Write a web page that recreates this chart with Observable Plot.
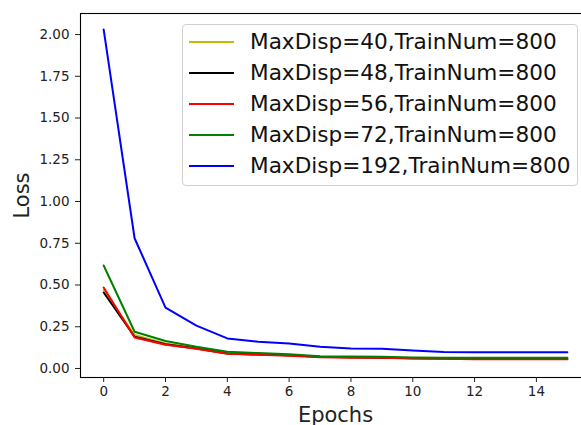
<!DOCTYPE html>
<html>
<head>
<meta charset="utf-8">
<script src="https://cdn.jsdelivr.net/npm/d3@7"></script>
<script src="https://cdn.jsdelivr.net/npm/@observablehq/plot@0.6"></script>
<style>
  body { margin: 0; background: #fff; }
  #wrap { position: relative; width: 581px; height: 425px; overflow: hidden; font-family: "DejaVu Sans", sans-serif; }
  #legend { position: absolute; left: 182px; top: 24px; width: 396px; height: 162px; border: 1px solid #d0d0d0; border-radius: 4px; background: rgba(255,255,255,0.85); box-sizing: border-box; }
  .row { position: absolute; left: 0; height: 30px; }
  .swatch { position: absolute; left: 6px; width: 45px; height: 2px; }
  .lab { position: absolute; left: 67px; font-size: 21.6px; line-height: 30px; color: #111; white-space: nowrap; }
</style>
</head>
<body>
<div id="wrap"></div>
<script>
const epochs = [0, 1, 2, 3, 4, 5, 6, 7, 8, 9, 10, 11, 12, 13, 14, 15];
const seriesNames = [
  "MaxDisp=40,TrainNum=800",
  "MaxDisp=48,TrainNum=800",
  "MaxDisp=56,TrainNum=800",
  "MaxDisp=72,TrainNum=800",
  "MaxDisp=192,TrainNum=800"
];
const seriesColors = ["#bfbf00", "#000000", "#ff0000", "#008000", "#0000ff"];
const loss40  = [0.470, 0.200, 0.150, 0.123, 0.093, 0.086, 0.080, 0.071, 0.068, 0.066, 0.062, 0.061, 0.059, 0.058, 0.058, 0.058];
const loss48  = [0.455, 0.190, 0.145, 0.120, 0.090, 0.084, 0.079, 0.070, 0.067, 0.065, 0.061, 0.060, 0.058, 0.057, 0.057, 0.057];
const loss56  = [0.485, 0.185, 0.142, 0.118, 0.088, 0.082, 0.077, 0.068, 0.065, 0.064, 0.060, 0.058, 0.056, 0.055, 0.055, 0.055];
const loss72  = [0.617, 0.220, 0.165, 0.130, 0.100, 0.092, 0.085, 0.074, 0.072, 0.071, 0.066, 0.065, 0.064, 0.064, 0.064, 0.064];
const loss192 = [2.030, 0.780, 0.365, 0.257, 0.180, 0.160, 0.150, 0.130, 0.120, 0.118, 0.108, 0.098, 0.097, 0.097, 0.097, 0.097];
const yTicks = [0, 0.25, 0.5, 0.75, 1.0, 1.25, 1.5, 1.75, 2.0];
const xTicks = [0, 2, 4, 6, 8, 10, 12, 14];

const allSeries = [loss40, loss48, loss56, loss72, loss192];
const data = [];
allSeries.forEach((vals, i) => vals.forEach((v, j) => data.push({epoch: epochs[j], loss: v, series: seriesNames[i]})));

const chart = Plot.plot({
  width: 581,
  height: 425,
  marginLeft: 80,
  marginTop: 13,
  marginBottom: 48,
  marginRight: -9,
  style: {fontFamily: "DejaVu Sans, sans-serif", fontSize: "13.5px", color: "#222", background: "transparent", overflow: "visible"},
  x: {domain: [-0.75, 15.75]},
  y: {domain: [-0.054, 2.126]},
  color: {domain: seriesNames, range: seriesColors},
  marks: [
    Plot.frame({stroke: "#000", strokeWidth: 1.1}),
    Plot.axisY({ticks: yTicks, tickFormat: d3.format(".2f"), tickSize: 5, tickPadding: 6, label: "Loss", labelAnchor: "center", labelArrow: "none", labelOffset: 66, fontSize: 13.5}),
    Plot.axisX({ticks: xTicks, tickSize: 5, tickPadding: 4, label: "Epochs", labelAnchor: "center", labelArrow: "none", labelOffset: 44, fontSize: 13.5}),
    Plot.line(data, {x: "epoch", y: "loss", z: "series", stroke: "series", strokeWidth: 2})
  ]
});
// enlarge axis titles
chart.querySelectorAll("g[aria-label='x-axis label'] text, g[aria-label='y-axis label'] text").forEach(t => t.setAttribute("font-size", "21px"));
document.getElementById("wrap").appendChild(chart);

const legend = document.createElement("div");
legend.id = "legend";
const rowTops = [17, 48, 79, 110, 141];
seriesNames.forEach((name, i) => {
  const row = document.createElement("div");
  row.className = "row";
  row.style.top = (rowTops[i] - 15) + "px";
  const sw = document.createElement("div");
  sw.className = "swatch";
  sw.style.top = "14px";
  sw.style.background = seriesColors[i];
  const lab = document.createElement("div");
  lab.className = "lab";
  lab.textContent = name;
  row.appendChild(sw);
  row.appendChild(lab);
  legend.appendChild(row);
});
document.getElementById("wrap").appendChild(legend);
</script>
</body>
</html>
